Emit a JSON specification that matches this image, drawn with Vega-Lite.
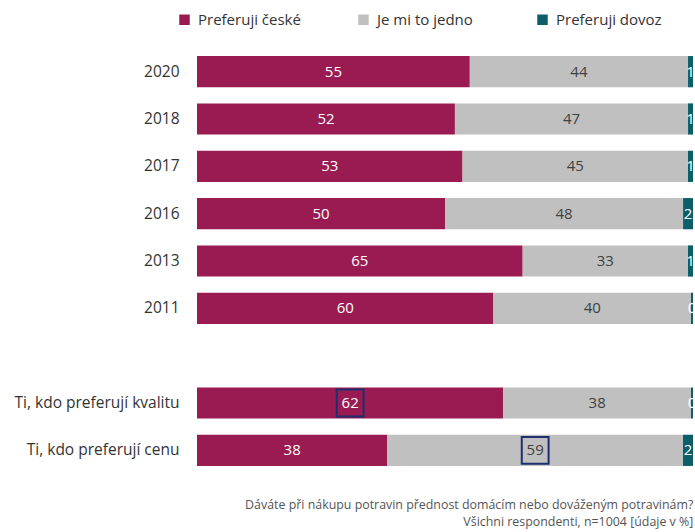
{
  "$schema": "https://vega.github.io/schema/vega-lite/v6.json",
  "width": 496,
  "height": 426,
  "autosize": "none",
  "padding": {"left": 197, "top": 48, "right": 2, "bottom": 58},
  "background": "white",
  "config": {"view": {"stroke": null}, "font": "Open Sans"},
  "title": {
    "text": ["Dáváte při nákupu potravin přednost domácím nebo dováženým potravinám?", "Všichni respondenti, n=1004 [údaje v %]"],
    "orient": "bottom",
    "anchor": "end",
    "align": "right",
    "offset": 25,
    "fontSize": 12.4,
    "fontWeight": "normal",
    "color": "#555555",
    "lineHeight": 16.5,
    "dx": -3
  },
  "data": {"values": [
    {"cat": "2020", "series": "Preferuji české", "o": 1, "value": 55, "label": "55", "hl": false},
    {"cat": "2020", "series": "Je mi to jedno", "o": 2, "value": 44, "label": "44", "hl": false},
    {"cat": "2020", "series": "Preferuji dovoz", "o": 3, "value": 1, "label": "1", "hl": false},
    {"cat": "2018", "series": "Preferuji české", "o": 1, "value": 52, "label": "52", "hl": false},
    {"cat": "2018", "series": "Je mi to jedno", "o": 2, "value": 47, "label": "47", "hl": false},
    {"cat": "2018", "series": "Preferuji dovoz", "o": 3, "value": 1, "label": "1", "hl": false},
    {"cat": "2017", "series": "Preferuji české", "o": 1, "value": 53, "label": "53", "hl": false},
    {"cat": "2017", "series": "Je mi to jedno", "o": 2, "value": 45, "label": "45", "hl": false},
    {"cat": "2017", "series": "Preferuji dovoz", "o": 3, "value": 1, "label": "1", "hl": false},
    {"cat": "2016", "series": "Preferuji české", "o": 1, "value": 50, "label": "50", "hl": false},
    {"cat": "2016", "series": "Je mi to jedno", "o": 2, "value": 48, "label": "48", "hl": false},
    {"cat": "2016", "series": "Preferuji dovoz", "o": 3, "value": 2, "label": "2", "hl": false},
    {"cat": "2013", "series": "Preferuji české", "o": 1, "value": 65, "label": "65", "hl": false},
    {"cat": "2013", "series": "Je mi to jedno", "o": 2, "value": 33, "label": "33", "hl": false},
    {"cat": "2013", "series": "Preferuji dovoz", "o": 3, "value": 1, "label": "1", "hl": false},
    {"cat": "2011", "series": "Preferuji české", "o": 1, "value": 60, "label": "60", "hl": false},
    {"cat": "2011", "series": "Je mi to jedno", "o": 2, "value": 40, "label": "40", "hl": false},
    {"cat": "2011", "series": "Preferuji dovoz", "o": 3, "value": 0.4, "label": "0", "hl": false},
    {"cat": "Ti, kdo preferují kvalitu", "series": "Preferuji české", "o": 1, "value": 62, "label": "62", "hl": true},
    {"cat": "Ti, kdo preferují kvalitu", "series": "Je mi to jedno", "o": 2, "value": 38, "label": "38", "hl": false},
    {"cat": "Ti, kdo preferují kvalitu", "series": "Preferuji dovoz", "o": 3, "value": 0.4, "label": "0", "hl": false},
    {"cat": "Ti, kdo preferují cenu", "series": "Preferuji české", "o": 1, "value": 38, "label": "38", "hl": false},
    {"cat": "Ti, kdo preferují cenu", "series": "Je mi to jedno", "o": 2, "value": 59, "label": "59", "hl": true},
    {"cat": "Ti, kdo preferují cenu", "series": "Preferuji dovoz", "o": 3, "value": 2, "label": "2", "hl": false}
  ]},
  "transform": [
    {"stack": "value", "groupby": ["cat"], "sort": [{"field": "o", "order": "ascending"}], "offset": "normalize", "as": ["x0", "x1"]},
    {"calculate": "(datum.x0 + datum.x1) / 2", "as": "xm"}
  ],
  "encoding": {
    "y": {
      "field": "cat", "type": "nominal",
      "scale": {"domain": ["2020", "2018", "2017", "2016", "2013", "2011", " ", "Ti, kdo preferují kvalitu", "Ti, kdo preferují cenu"], "paddingInner": 0.34, "paddingOuter": 0.17},
      "axis": {"title": null, "domain": false, "ticks": false, "labelPadding": 18, "labelFontSize": 15.5, "labelColor": "#333333", "labelLimit": 300}
    }
  },
  "layer": [
    {
      "mark": {"type": "bar"},
      "encoding": {
        "x": {"field": "x0", "type": "quantitative", "scale": {"domain": [0, 1], "nice": false}, "axis": null},
        "x2": {"field": "x1"},
        "color": {
          "field": "series", "type": "nominal",
          "scale": {"domain": ["Preferuji české", "Je mi to jedno", "Preferuji dovoz"], "range": ["#991B51", "#C0C0C0", "#0C5E69"]},
          "legend": {
            "title": null, "orient": "none", "legendX": -20, "legendY": -36, "direction": "horizontal",
            "columns": 3, "gridAlign": "all", "columnPadding": 52,
            "symbolType": "square", "symbolSize": 110, "symbolStrokeWidth": 0,
            "labelFontSize": 15, "labelColor": "#333333", "labelOffset": 6
          }
        }
      }
    },
    {
      "mark": {"type": "text", "fontSize": 15, "baseline": "middle", "align": "center"},
      "encoding": {
        "x": {"field": "xm", "type": "quantitative"},
        "text": {"field": "label"},
        "color": {
          "condition": {"test": "datum.series === 'Je mi to jedno'", "value": "#404040"},
          "value": "#ffffff"
        }
      }
    },
    {
      "transform": [{"filter": "datum.hl"}],
      "mark": {"type": "point", "shape": "square", "filled": false, "size": 720, "strokeWidth": 2, "stroke": "#1F2E6E", "opacity": 1},
      "encoding": {
        "x": {"field": "xm", "type": "quantitative"}
      }
    }
  ]
}
